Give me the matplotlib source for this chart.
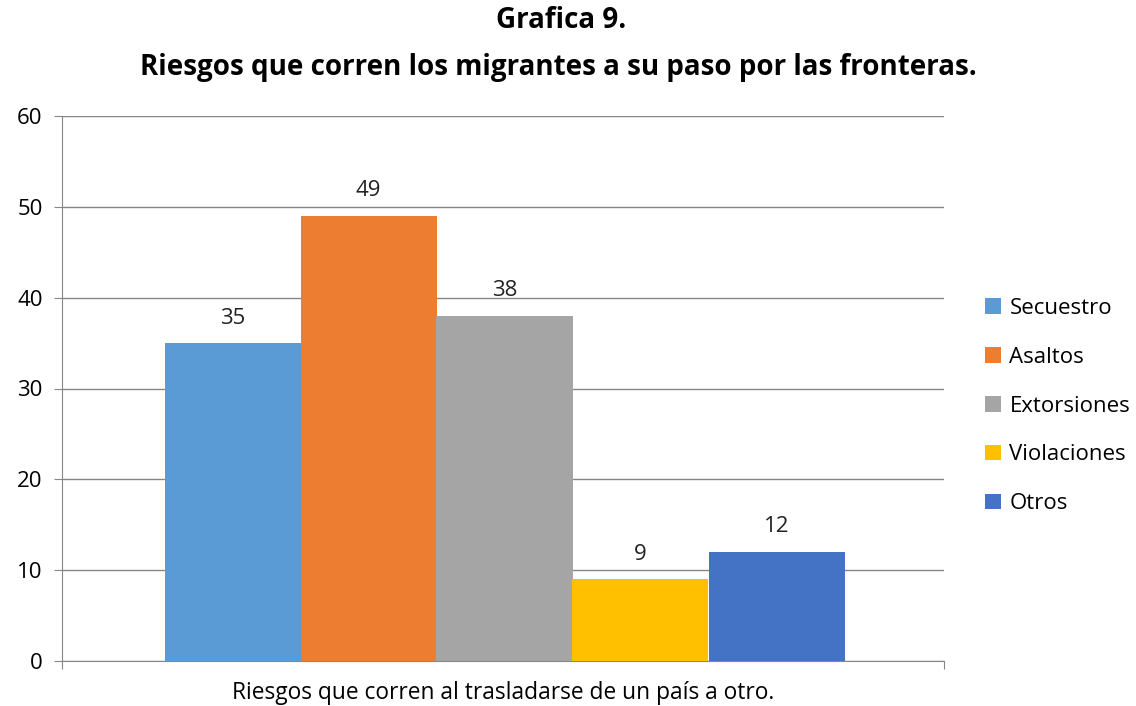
import matplotlib
matplotlib.use("Agg")
import matplotlib.pyplot as plt
from matplotlib.patches import Patch

categories = ["Secuestro", "Asaltos", "Extorsiones", "Violaciones", "Otros"]
values = [35, 49, 38, 9, 12]
colors = ["#5B9BD5", "#ED7D31", "#A5A5A5", "#FFC000", "#4472C4"]
yticks = [0, 10, 20, 30, 40, 50, 60]
title_lines = ["Grafica 9.", "Riesgos que corren los migrantes a su paso por las fronteras."]
xlabel = "Riesgos que corren al trasladarse de un país a otro."

plt.rcParams['font.family'] = ['Open Sans', 'DejaVu Sans']

fig = plt.figure(figsize=(11.36, 7.06), dpi=100)
ax = fig.add_axes([62/1136, 1-661/706, (944-62)/1136, (661-116)/706])

n = len(values)
bw = 136/882
start = 0.5 - n*bw/2 + (504.5-503)/882
for i, (c, v, col) in enumerate(zip(categories, values, colors)):
    x = start + bw*i + bw/2
    ax.bar(x, v, width=bw, color=col, label=c, zorder=3)
    ax.text(x, v + 1.6, str(v), ha='center', va='bottom', fontsize=16, color='#222222')

ax.set_xlim(0, 1)
ax.set_ylim(0, 60)
ax.set_yticks(yticks)
ax.set_yticklabels([str(t) for t in yticks], fontsize=16)
ax.set_xticks([0, 1])
ax.set_xticklabels(['', ''])
ax.tick_params(axis='x', length=6, color='#868686')
ax.tick_params(axis='y', length=6, color='#868686', pad=8)
ax.yaxis.grid(True, color='#868686', linewidth=1.0, zorder=0)
ax.set_axisbelow(True)
for s in ['top', 'right']:
    ax.spines[s].set_visible(False)
for s in ['left', 'bottom']:
    ax.spines[s].set_color('#868686')

fig.text(503/1136, 1-693/706, xlabel, ha='center', va='center', fontsize=16.4)
fig.text(561/1136, 1-21/706, title_lines[0], ha='center', va='center', fontsize=20,
         fontweight='bold')
fig.text(558/1136, 1-68/706, title_lines[1], ha='center', va='center', fontsize=20,
         fontweight='bold')

handles = [Patch(facecolor=col, label=c) for c, col in zip(categories, colors)]
leg = fig.legend(handles=handles, loc='center left', bbox_to_anchor=(985/1136, 1-406/706),
                 frameon=False, fontsize=16, handlelength=0.7, handleheight=0.7,
                 handletextpad=0.4, labelspacing=1.25, borderaxespad=0, borderpad=0)

fig.savefig("out.png", dpi=100)
